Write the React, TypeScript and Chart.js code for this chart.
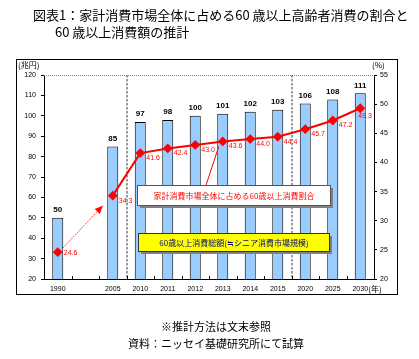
import React, { useEffect, useRef } from 'react';
import { Chart, registerables } from 'chart.js';

Chart.register(...registerables);

// ---- data ----
const categories = ['1990', '', '2005', '2010', '2011', '2012', '2013', '2014', '2015', '2020', '2025', '2030'];
const spendingTotal = [50, null, 85, 97, 98, 100, 101, 102, 103, 106, 108, 111];
const seniorShare = [24.6, null, 34.3, 41.6, 42.4, 43.0, 43.6, 44.0, 44.4, 45.7, 47.2, 49.3];
const leftAxisRange = [20, 120];
const leftAxisStep = 10;
const rightAxisRange = [20, 55];
const rightAxisStep = 5;
const dividerAfter = ['2005', '2015'];
const shareLabel = '家計消費市場全体に占める60歳以上消費割合';
const totalLabel = '60歳以上消費総額(≒シニア消費市場規模)';
const titleLine1 = '図表1：家計消費市場全体に占める60 歳以上高齢者消費の割合と';
const titleLine2 = '60 歳以上消費額の推計';
const noteLine1 = '※推計方法は文末参照';
const noteLine2 = '資料：ニッセイ基礎研究所にて試算';

const NUM_FONT = "'Liberation Sans', Arial, sans-serif";
const JP_FONT = "'Noto Sans CJK JP', sans-serif";

function drawBox(ctx: CanvasRenderingContext2D, x: number, y: number, w: number, h: number,
  fill: string, stroke: string, text: string, color: string) {
  ctx.fillStyle = '#808080';
  ctx.fillRect(x + 3, y + 3, w, h);
  ctx.fillStyle = fill;
  ctx.fillRect(x, y, w, h);
  ctx.strokeStyle = stroke;
  ctx.lineWidth = 1;
  ctx.strokeRect(x + 0.5, y + 0.5, w, h);
  ctx.fillStyle = color;
  ctx.font = `8px ${JP_FONT}`;
  ctx.textAlign = 'center';
  ctx.textBaseline = 'middle';
  ctx.fillText(text, x + w / 2 + 0.5, y + h / 2 + 0.5);
}

const decoPlugin = {
  id: 'deco',
  beforeDatasetsDraw(chart: any) {
    const { ctx, chartArea: a, scales } = chart;
    const xs = scales.x;
    const half = (xs.getPixelForValue(1) - xs.getPixelForValue(0)) / 2;
    ctx.save();
    // dotted top border
    ctx.strokeStyle = '#808080';
    ctx.lineWidth = 1;
    ctx.setLineDash([1, 1]);
    ctx.beginPath();
    ctx.moveTo(a.left, a.top + 0.5);
    ctx.lineTo(a.right, a.top + 0.5);
    ctx.stroke();
    // period dividers
    ctx.setLineDash([2.5, 1.5]);
    ctx.lineWidth = 1.5;
    ctx.strokeStyle = '#7a7a7a';
    dividerAfter.forEach((c) => {
      const i = categories.indexOf(c);
      const px = Math.round(xs.getPixelForValue(i) + half);
      ctx.beginPath();
      ctx.moveTo(px, a.top);
      ctx.lineTo(px, a.bottom);
      ctx.stroke();
    });
    // inward ticks on x axis
    ctx.setLineDash([]);
    ctx.lineWidth = 1;
    ctx.strokeStyle = '#000';
    for (let i = 1; i < categories.length; i++) {
      const px = Math.round(xs.getPixelForValue(i) - half) + 0.5;
      ctx.beginPath();
      ctx.moveTo(px, a.bottom);
      ctx.lineTo(px, a.bottom - 3);
      ctx.stroke();
    }
    ctx.restore();
  },
  afterDatasetsDraw(chart: any) {
    const { ctx, scales } = chart;
    const xs = scales.x;
    const barMeta = chart.getDatasetMeta(0);
    const lineMeta = chart.getDatasetMeta(1);
    ctx.save();
    // bar value labels
    ctx.fillStyle = '#000';
    ctx.font = `bold 8px ${NUM_FONT}`;
    ctx.textAlign = 'center';
    ctx.textBaseline = 'alphabetic';
    spendingTotal.forEach((v, i) => {
      if (v == null) return;
      const el = barMeta.data[i];
      ctx.fillText(String(v), el.x, el.y - 5.5);
    });
    // dashed arrow from first point to the next available point
    const p0 = lineMeta.data[0];
    const p2 = lineMeta.data[2];
    const sx = p0.x + 5, sy = p0.y - 4;
    const tx = p2.x - 10, ty = p2.y + 10;
    ctx.strokeStyle = '#ff4040';
    ctx.lineWidth = 1;
    ctx.setLineDash([2, 1]);
    ctx.beginPath();
    ctx.moveTo(sx, sy);
    ctx.lineTo(tx, ty);
    ctx.stroke();
    ctx.setLineDash([]);
    const ang = Math.atan2(ty - sy, tx - sx);
    const L = 8, W = 3.5;
    ctx.fillStyle = '#ff0000';
    ctx.beginPath();
    ctx.moveTo(tx, ty);
    ctx.lineTo(tx - L * Math.cos(ang) + W * Math.sin(ang), ty - L * Math.sin(ang) - W * Math.cos(ang));
    ctx.lineTo(tx - L * Math.cos(ang) - W * Math.sin(ang), ty - L * Math.sin(ang) + W * Math.cos(ang));
    ctx.closePath();
    ctx.fill();
    // line value labels
    ctx.fillStyle = '#ff0000';
    ctx.font = `7px ${NUM_FONT}`;
    ctx.textBaseline = 'middle';
    ctx.textAlign = 'left';
    const last = seniorShare.length - 1;
    seniorShare.forEach((v, i) => {
      if (v == null) return;
      const el = lineMeta.data[i];
      const txt = v.toFixed(1);
      if (i === last) {
        ctx.fillText(txt, el.x - 2, el.y + 8);
      } else if (i === 0) {
        ctx.fillText(txt, el.x + 6, el.y + 0.5);
      } else {
        ctx.fillText(txt, el.x + 6, el.y + 5);
      }
    });
    // legend boxes
    const p6 = lineMeta.data[6];
    ctx.strokeStyle = '#ff0000';
    ctx.lineWidth = 1;
    ctx.beginPath();
    ctx.moveTo(p6.x - 17, 186);
    ctx.lineTo(p6.x - 4, p6.y + 5);
    ctx.stroke();
    drawBox(ctx, 137, 185, 193, 20, '#ffffff', '#555555', shareLabel, '#ff0000');
    drawBox(ctx, 138, 233, 191, 18, '#ffff00', '#333333', totalLabel, '#000080');
    // axis titles
    ctx.fillStyle = '#000';
    ctx.font = `8px ${JP_FONT}`;
    ctx.textBaseline = 'middle';
    ctx.textAlign = 'left';
    ctx.fillText('(兆円)', 18, 65);
    ctx.fillText('(%)', 372, 65);
    ctx.fillText('(年)', xs.getPixelForValue(categories.length - 1) + 8, 289);
    // outer frame
    ctx.strokeStyle = '#000';
    ctx.strokeRect(16.5, 59.5, 381, 235);
    ctx.restore();
  },
};

export default function App() {
  const ref = useRef<HTMLCanvasElement | null>(null);
  useEffect(() => {
    if (!ref.current) return;
    const chart = new Chart(ref.current, {
      data: {
        labels: categories,
        datasets: [
          {
            type: 'bar',
            label: totalLabel,
            data: spendingTotal,
            yAxisID: 'y',
            backgroundColor: '#99ccff',
            borderColor: '#000000',
            borderWidth: 1,
            barPercentage: 0.4,
            categoryPercentage: 1,
            order: 2,
          },
          {
            type: 'line',
            label: shareLabel,
            data: seniorShare,
            yAxisID: 'y1',
            borderColor: '#ff0000',
            borderWidth: 2,
            pointStyle: 'rectRot',
            pointRadius: 3.5,
            pointBackgroundColor: '#ff0000',
            pointBorderColor: '#ff0000',
            spanGaps: false,
            order: 1,
          },
        ] as any,
      },
      options: {
        responsive: false,
        maintainAspectRatio: false,
        devicePixelRatio: 1,
        animation: false,
        layout: { padding: { left: 0, right: 0, top: 75, bottom: 0 } },
        plugins: { legend: { display: false }, tooltip: { enabled: false }, title: { display: false } },
        scales: {
          x: {
            type: 'category',
            offset: true,
            grid: { display: false, drawTicks: false, tickLength: 0 },
            border: { display: true, color: '#000', width: 1 },
            ticks: { color: '#000', font: { size: 7, family: NUM_FONT }, padding: 6, maxRotation: 0, autoSkip: false },
            afterFit: (s: any) => { s.height = 80; },
          },
          y: {
            position: 'left',
            min: leftAxisRange[0],
            max: leftAxisRange[1],
            grid: { display: true, drawOnChartArea: false, drawTicks: true, tickLength: 3, color: '#000' },
            border: { display: true, color: '#000', width: 1 },
            ticks: { stepSize: leftAxisStep, color: '#000', font: { size: 7, family: NUM_FONT }, padding: 5 },
            afterFit: (s: any) => { s.width = 44; },
          },
          y1: {
            position: 'right',
            min: rightAxisRange[0],
            max: rightAxisRange[1],
            grid: { display: true, drawOnChartArea: false, drawTicks: true, tickLength: 3, color: '#000' },
            border: { display: true, color: '#000', width: 1 },
            ticks: { stepSize: rightAxisStep, color: '#000', font: { size: 7, family: NUM_FONT }, padding: 3 },
            afterFit: (s: any) => { s.width = 45; },
          },
        },
      } as any,
      plugins: [decoPlugin],
    });
    return () => chart.destroy();
  }, []);

  const textStyle: React.CSSProperties = {
    position: 'absolute',
    whiteSpace: 'nowrap',
    fontFamily: JP_FONT,
    color: '#000',
    margin: 0,
  };

  return (
    <div style={{ position: 'fixed', left: 0, top: 0, width: 419, height: 359, background: '#fff', overflow: 'hidden' }}>
      <canvas ref={ref} width={419} height={359} style={{ position: 'absolute', left: 0, top: 0, width: 419, height: 359 }} />
      <div style={{ ...textStyle, left: 33, top: 6, fontSize: 13, lineHeight: '18px' }}>{titleLine1}</div>
      <div style={{ ...textStyle, left: 55, top: 23, fontSize: 13, lineHeight: '18px' }}>{titleLine2}</div>
      <div style={{ ...textStyle, left: 0, width: 432, textAlign: 'center', top: 318, fontSize: 11, lineHeight: '16px' }}>{noteLine1}</div>
      <div style={{ ...textStyle, left: 0, width: 432, textAlign: 'center', top: 335, fontSize: 11, lineHeight: '16px' }}>{noteLine2}</div>
    </div>
  );
}
